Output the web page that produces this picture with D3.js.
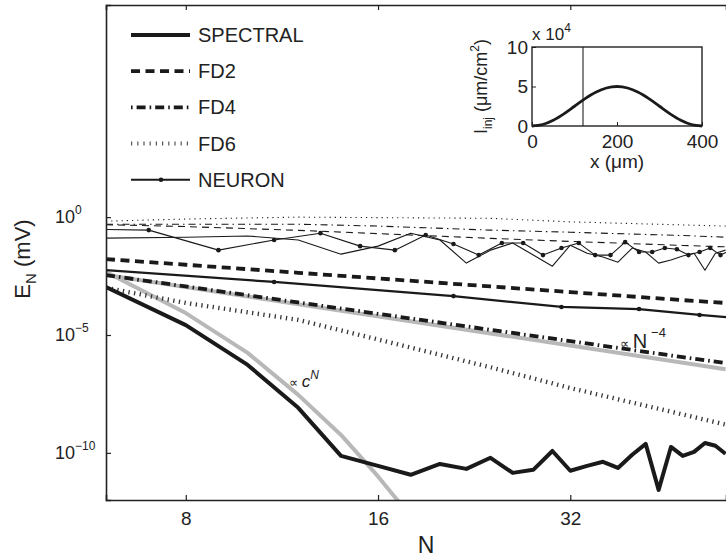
<!DOCTYPE html>
<html>
<head>
<meta charset="utf-8">
<script src="https://cdn.jsdelivr.net/npm/d3@7"></script>
<style>
  body { margin: 0; background: #fff; }
  svg { font-family: "Liberation Sans", Arial, sans-serif; }
</style>
</head>
<body>
<div id="chart-area"></div>
<script>
// values, E_N stored as log10(E_N)
const evenN = [6,8,10,12,14,16,18,20,22,24,26,28,30,32,34,36,38,40,42,44,46,48,50,52,54,56]
const spectralLog = [-2.97,-4.58,-6.27,-8.09,-10.13,-10.55,-10.93,-10.47,-10.68,-10.21,-10.85,-10.72,-9.92,-10.76,-10.55,-10.38,-10.64,-10.08,-9.62,-11.57,-9.75,-10.13,-9.96,-9.58,-9.7,-10.04]
const spectralThinLog = [-0.89,-0.85,-0.8,-0.97,-1.57,-1.23,-0.68,-0.97,-1.95,-1.4,-1.1,-1.61,-2.08,-1.19,-1.53,-1.69,-1.91,-1.31,-1.48,-1.95,-1.82,-1.65,-1.53,-2.25,-1.53,-1.4]

const fdN = [6,8,12,16,24,32,48,56]
const fd2Log = [-1.78,-2.02,-2.36,-2.6,-2.94,-3.18,-3.52,-3.64]
const fd4Log = [-2.46,-2.94,-3.62,-4.1,-4.78,-5.26,-5.94,-6.19]
const fd6Log = [-3.0,-3.64,-4.36,-5.19,-6.37,-7.25,-8.37,-8.8]
const fd2ThinLog = [-0.32,-0.4,-0.56,-0.7,-0.9,-1.03,-1.2,-1.26]
const fd4ThinLog = [-0.3,-0.3,-0.3,-0.38,-0.55,-0.64,-0.78,-0.85]
const fd6ThinLog = [-0.17,-0.08,0,-0.02,-0.05,-0.2,-0.33,-0.38]

const neuronN = [1,11,21,31,41,51,61]
const neuronLog = [-0.75,-2.75,-3.35,-3.81,-3.9,-4.15,-4.32]
const neuronThinN = [5,7,9,11,13,15,17,19,21,23,25,27,29,31,33,35,37,39,41,43,45,47,49,51,53,55,57]
const neuronThinLog = [-0.5,-0.55,-1.4,-0.97,-0.68,-1.23,-1.4,-0.76,-1.14,-1.61,-1.1,-1.1,-1.61,-1.31,-1.1,-1.61,-1.61,-1.06,-1.48,-1.48,-1.31,-1.36,-1.61,-1.48,-1.31,-1.61,-1.4]

const refCN_N = [6,8,10,12,14,16,18]
const refCN_Log = [-2.33,-4.07,-5.76,-7.54,-9.24,-11.0,-12.7]
const refN4_N = [6,56]
const refN4_Log = [-2.45,-6.45]

// inset: injected current profile (x 10^4)
const insetX = [0,25,50,75,100,125,150,175,200,225,250,275,300,325,350,375,400]
const insetI = [0,0.19,0.73,1.54,2.5,3.46,4.27,4.81,5,4.81,4.27,3.46,2.5,1.54,0.73,0.19,0]
const insetMark = 120

const xTicks = [8,16,32]
const yTicks = [0,-5,-10]

const MARGIN = { LEFT: 106, TOP: 5 }
const WIDTH = 622
const HEIGHT = 495

const svg = d3.select("#chart-area").append("svg")
  .attr("width", 726)
  .attr("height", 559)

svg.append("defs").append("clipPath").attr("id", "plot-clip")
  .append("rect").attr("x", 0).attr("y", 0).attr("width", WIDTH).attr("height", HEIGHT)

const g = svg.append("g")
  .attr("transform", `translate(${MARGIN.LEFT}, ${MARGIN.TOP})`)

const x = d3.scaleLog().domain([6, 56.1]).range([0, WIDTH - 2])
const y = d3.scaleLog().domain([1e-12, 1e9]).range([HEIGHT, 0])

const line = d3.line()
  .x(d => x(d[0]))
  .y(d => y(Math.pow(10, d[1])))

const plot = g.append("g").attr("clip-path", "url(#plot-clip)")

function addLine(ns, vals, style) {
  const pts = ns.map((n, i) => [n, vals[i]])
  plot.append("path")
    .datum(pts)
    .attr("fill", "none")
    .attr("stroke", style.color || "#1a1a1a")
    .attr("stroke-width", style.width)
    .attr("stroke-dasharray", style.dash || null)
    .attr("stroke-linejoin", "round")
    .attr("d", line)
  if (style.markers) {
    plot.selectAll(null).data(pts).enter().append("circle")
      .attr("cx", d => x(d[0]))
      .attr("cy", d => y(Math.pow(10, d[1])))
      .attr("r", 2.3)
      .attr("fill", "#1a1a1a")
  }
}

// thin lines (upper cluster)
addLine(fdN, fd6ThinLog, { width: 1.1, dash: "1.2,4" })
addLine(fdN, fd4ThinLog, { width: 1.1, dash: "7,4,1.5,4" })
addLine(fdN, fd2ThinLog, { width: 1.1, dash: "7,5" })
addLine(evenN, spectralThinLog, { width: 1.1 })
addLine(neuronThinN, neuronThinLog, { width: 1.1, markers: true })

// reference slopes
addLine(refN4_N, refN4_Log, { width: 4, color: "#b8b8b8" })
addLine(refCN_N, refCN_Log, { width: 4, color: "#b8b8b8" })

// thick lines
addLine(fdN, fd6Log, { width: 4.4, dash: "1.3,4.4", color: "#333" })
addLine(fdN, fd4Log, { width: 3.8, dash: "9,4,1.6,4" })
addLine(fdN, fd2Log, { width: 3.8, dash: "9,5.5" })
addLine(neuronN, neuronLog, { width: 2.2, markers: true })
addLine(evenN, spectralLog, { width: 4 })

// axes
const xAxis = d3.axisBottom(x).tickValues(xTicks).tickSize(-5).tickPadding(12).tickFormat(d3.format("d"))
const xg = g.append("g").attr("transform", `translate(0, ${HEIGHT})`).call(xAxis)
xg.selectAll("text").attr("font-size", "19px").attr("fill", "#222")
const xTop = d3.axisTop(x).tickValues(xTicks).tickSize(-5).tickFormat("")
g.append("g").call(xTop)

const yAxis = d3.axisLeft(y).tickValues(yTicks.map(e => Math.pow(10, e))).tickSize(-5).tickFormat("")
g.append("g").call(yAxis)

g.selectAll(".domain").attr("stroke", "#222").attr("stroke-width", 1.6)
g.selectAll(".tick line").attr("stroke", "#222").attr("stroke-width", 1.2)

yTicks.forEach(e => {
  const t = g.append("text")
    .attr("x", -51)
    .attr("y", y(Math.pow(10, e)) + 6)
    .attr("font-size", "18px")
    .attr("fill", "#222")
  t.append("tspan").text("10")
  t.append("tspan").attr("dy", -9).attr("font-size", "12px").text(e === 0 ? "0" : "\u2212" + (-e))
})

// axis labels
svg.append("text")
  .attr("x", 426)
  .attr("y", 553)
  .attr("font-size", "23px")
  .attr("text-anchor", "middle")
  .attr("fill", "#222")
  .text("N")

const yl = svg.append("text")
  .attr("transform", "translate(30, 259) rotate(-90)")
  .attr("font-size", "22px")
  .attr("text-anchor", "middle")
  .attr("fill", "#222")
yl.append("tspan").text("E")
yl.append("tspan").attr("dy", 6).attr("font-size", "15px").text("N")
yl.append("tspan").attr("dy", -6).text(" (mV)")

// legend
const legendItems = [
  { name: "SPECTRAL", width: 4 },
  { name: "FD2", width: 3.8, dash: "9,5.5" },
  { name: "FD4", width: 3.8, dash: "1.6,4,9,4" },
  { name: "FD6", width: 4, dash: "1.2,5", color: "#555" },
  { name: "NEURON", width: 2, markers: true }
]
const legend = svg.append("g")
legendItems.forEach((d, i) => {
  const ly = 35 + i * 36.2
  legend.append("line")
    .attr("x1", 131).attr("x2", 190).attr("y1", ly).attr("y2", ly)
    .attr("stroke", d.color || "#1a1a1a")
    .attr("stroke-width", d.width)
    .attr("stroke-dasharray", d.dash || null)
  if (d.markers) {
    legend.append("circle").attr("cx", 161).attr("cy", ly).attr("r", 2.3).attr("fill", "#1a1a1a")
  }
  legend.append("text")
    .attr("x", 198).attr("y", ly + 7)
    .attr("font-size", "20px")
    .attr("fill", "#222")
    .text(d.name)
})

// annotations
const a1 = svg.append("text").attr("x", 289).attr("y", 387).attr("fill", "#222")
a1.append("tspan").attr("font-size", "13px").text("\u221D ")
a1.append("tspan").attr("font-size", "17px").attr("font-style", "italic").text("c")
a1.append("tspan").attr("dy", -8).attr("font-size", "12px").attr("font-style", "italic").text("N")

const a2 = svg.append("text").attr("x", 620).attr("y", 348).attr("fill", "#222")
a2.append("tspan").attr("font-size", "13px").text("\u221D ")
a2.append("tspan").attr("font-size", "20px").text("N")
a2.append("tspan").attr("dy", -11).attr("dx", 4).attr("font-size", "13px").text("\u22124")

// inset
const IN = { LEFT: 532, TOP: 47, W: 170, H: 79 }
const ix = d3.scaleLinear().domain([0, 400]).range([0, IN.W])
const iy = d3.scaleLinear().domain([0, 10]).range([IN.H, 0])
const ig = svg.append("g").attr("transform", `translate(${IN.LEFT}, ${IN.TOP})`)

ig.append("rect").attr("width", IN.W).attr("height", IN.H)
  .attr("fill", "#fff").attr("stroke", "#222").attr("stroke-width", 1.4)
ig.append("line")
  .attr("x1", ix(insetMark)).attr("x2", ix(insetMark))
  .attr("y1", 0).attr("y2", IN.H)
  .attr("stroke", "#222").attr("stroke-width", 1.1)
ig.append("path")
  .datum(insetX.map((v, i) => [v, insetI[i]]))
  .attr("fill", "none").attr("stroke", "#1a1a1a").attr("stroke-width", 2.8)
  .attr("d", d3.line().x(d => ix(d[0])).y(d => iy(d[1])).curve(d3.curveMonotoneX))

const ixAxis = d3.axisBottom(ix).tickValues([0, 200, 400]).tickSize(-4).tickPadding(6)
const ixg = ig.append("g").attr("transform", `translate(0, ${IN.H})`).call(ixAxis)
const iyAxis = d3.axisLeft(iy).tickValues([0, 5, 10]).tickSize(-4).tickPadding(4)
const iyg = ig.append("g").call(iyAxis)
ig.selectAll(".domain").remove()
ig.selectAll(".tick line").attr("stroke", "#222")
ig.selectAll(".tick text").attr("font-size", "19px").attr("fill", "#222")
ixg.selectAll(".tick text").attr("dy", "0.85em")

const xe = ig.append("text").attr("x", 0).attr("y", -7).attr("font-size", "17px").attr("fill", "#222")
xe.append("tspan").text("x 10")
xe.append("tspan").attr("dy", -8).attr("font-size", "12px").text("4")

ig.append("text")
  .attr("x", IN.W / 2).attr("y", 121)
  .attr("text-anchor", "middle").attr("font-size", "19px").attr("fill", "#222")
  .text("x (\u03BCm)")

const il = ig.append("text")
  .attr("transform", `translate(-45, ${IN.H / 2}) rotate(-90)`)
  .attr("text-anchor", "middle").attr("font-size", "18px").attr("fill", "#222")
il.append("tspan").text("I")
il.append("tspan").attr("dy", 5).attr("font-size", "12px").text("inj")
il.append("tspan").attr("dy", -5).text(" (\u03BCm/cm")
il.append("tspan").attr("dy", -8).attr("font-size", "12px").text("2")
il.append("tspan").attr("dy", 8).text(")")
</script>
</body>
</html>
